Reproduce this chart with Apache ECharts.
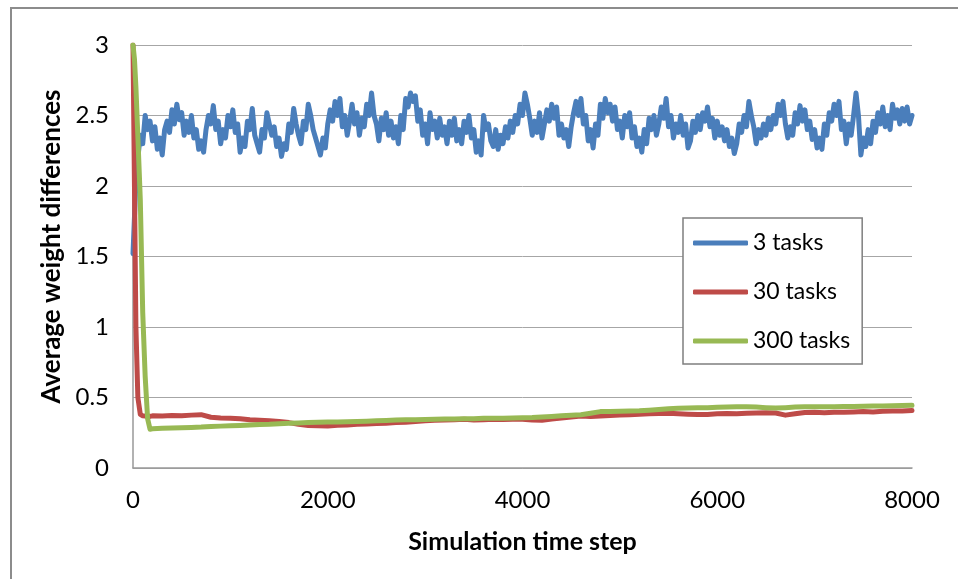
<!DOCTYPE html>
<html>
<head>
<meta charset="utf-8">
<script src="https://cdn.jsdelivr.net/npm/echarts@6/dist/echarts.min.js"></script>
<style>
  html, body { margin: 0; padding: 0; background: #fff; }
  #wrap { position: relative; width: 958px; height: 579px; overflow: hidden; }
  #frame { position: absolute; left: 10px; top: 7px; width: 960px; height: 600px;
           border-left: 2px solid #8c8c8c; border-top: 2px solid #8c8c8c; }
  #chart { position: absolute; left: 0; top: 0; width: 958px; height: 579px; }
</style>
</head>
<body>
<div id="wrap">
  <div id="frame"></div>
  <div id="chart"></div>
</div>
<script>
// ---- Data ----
const seriesNames = ['3 tasks', '30 tasks', '300 tasks'];
const xTicks = [0, 2000, 4000, 6000, 8000];
const yTicks = [0, 0.5, 1, 1.5, 2, 2.5, 3];

// 3 tasks: sampled every 25 time steps from 0 to 8000
const blueStep = 25;
const blueY = [
  1.52,1.95,2.2,2.36,2.3,2.5,2.4,2.46,2.32,2.42,2.26,2.34,2.22,2.4,2.46,2.38,2.54,2.44,2.58,2.47,
  2.52,2.36,2.46,2.38,2.5,2.34,2.4,2.26,2.32,2.24,2.4,2.5,2.44,2.57,2.4,2.46,2.3,2.4,2.34,2.5,
  2.42,2.54,2.38,2.44,2.24,2.34,2.28,2.46,2.4,2.55,2.36,2.3,2.24,2.4,2.34,2.52,2.44,2.36,2.42,2.28,
  2.34,2.21,2.3,2.26,2.44,2.38,2.55,2.44,2.36,2.3,2.46,2.4,2.58,2.5,2.4,2.34,2.28,2.22,2.34,2.27,
  2.44,2.54,2.46,2.6,2.5,2.62,2.42,2.5,2.36,2.46,2.58,2.44,2.52,2.36,2.48,2.42,2.58,2.5,2.66,2.5,
  2.44,2.32,2.48,2.4,2.52,2.36,2.46,2.34,2.42,2.3,2.5,2.4,2.62,2.56,2.66,2.6,2.64,2.46,2.54,2.36,
  2.44,2.3,2.52,2.4,2.46,2.34,2.48,2.36,2.42,2.3,2.46,2.36,2.48,2.32,2.4,2.3,2.46,2.38,2.5,2.34,
  2.4,2.24,2.32,2.22,2.5,2.4,2.44,2.32,2.28,2.4,2.26,2.36,2.3,2.42,2.34,2.46,2.38,2.5,2.44,2.58,
  2.5,2.66,2.58,2.48,2.36,2.46,2.38,2.52,2.34,2.44,2.54,2.46,2.58,2.48,2.56,2.36,2.44,2.34,2.4,2.28,
  2.42,2.52,2.6,2.5,2.62,2.44,2.5,2.32,2.4,2.27,2.44,2.36,2.58,2.48,2.62,2.52,2.58,2.46,2.56,2.4,
  2.46,2.34,2.5,2.42,2.52,2.34,2.42,2.28,2.34,2.24,2.4,2.3,2.48,2.4,2.5,2.36,2.44,2.56,2.48,2.62,
  2.42,2.5,2.34,2.44,2.38,2.5,2.36,2.44,2.27,2.32,2.46,2.38,2.5,2.4,2.52,2.46,2.56,2.42,2.48,2.34,
  2.46,2.36,2.42,2.32,2.4,2.28,2.34,2.23,2.3,2.44,2.38,2.5,2.42,2.6,2.5,2.42,2.3,2.4,2.34,2.44,
  2.36,2.48,2.4,2.5,2.44,2.58,2.5,2.6,2.44,2.34,2.42,2.36,2.52,2.44,2.57,2.46,2.54,2.4,2.46,2.33,
  2.4,2.27,2.34,2.26,2.44,2.36,2.52,2.46,2.58,2.5,2.6,2.4,2.46,2.3,2.44,2.36,2.5,2.66,2.5,2.22,
  2.34,2.28,2.4,2.3,2.46,2.38,2.52,2.44,2.56,2.42,2.5,2.4,2.58,2.48,2.54,2.44,2.55,2.46,2.56,2.44,
  2.5
];

// 30 and 300 tasks share these time steps
const lowX = [0,15,30,50,75,100,125,150,175,
  200,300,400,500,600,700,800,900,1000,1100,1200,1300,1400,1500,1600,1700,1800,1900,
  2000,2100,2200,2300,2400,2500,2600,2700,2800,2900,
  3000,3100,3200,3300,3400,3500,3600,3700,3800,3900,
  4000,4100,4200,4300,4400,4500,4600,4700,4800,4900,
  5000,5100,5200,5300,5400,5500,5600,5700,5800,5900,
  6000,6100,6200,6300,6400,6500,6600,6700,6800,6900,
  7000,7100,7200,7300,7400,7500,7600,7700,7800,7900,
  8000];
const redY = [3.0,2.0,1.0,0.5,0.38,0.37,0.368,0.37,0.366,
  0.37,0.368,0.372,0.37,0.375,0.378,0.36,0.355,0.352,0.35,0.342,0.338,0.335,0.33,0.322,0.31,0.302,0.3,
  0.298,0.303,0.305,0.31,0.312,0.315,0.318,0.322,0.325,0.33,
  0.335,0.338,0.34,0.342,0.345,0.34,0.343,0.345,0.344,0.346,
  0.345,0.34,0.338,0.348,0.355,0.362,0.368,0.366,0.368,0.372,
  0.375,0.378,0.382,0.385,0.386,0.388,0.385,0.382,0.38,0.38,
  0.384,0.386,0.385,0.388,0.39,0.392,0.39,0.375,0.385,0.394,
  0.395,0.392,0.396,0.395,0.398,0.4,0.398,0.402,0.404,0.405,
  0.408];
const greenY = [3.0,2.9,2.7,2.35,1.9,1.1,0.65,0.35,0.275,
  0.278,0.282,0.284,0.286,0.288,0.29,0.294,0.297,0.3,0.302,0.305,0.308,0.31,0.314,0.318,0.32,0.322,0.324,
  0.326,0.327,0.328,0.33,0.332,0.335,0.337,0.34,0.342,0.343,
  0.344,0.346,0.347,0.348,0.35,0.35,0.352,0.352,0.353,0.354,
  0.356,0.358,0.362,0.366,0.37,0.374,0.377,0.388,0.4,0.4,
  0.402,0.404,0.406,0.41,0.415,0.42,0.424,0.426,0.428,0.428,
  0.43,0.432,0.434,0.435,0.432,0.428,0.425,0.428,0.432,0.435,
  0.435,0.434,0.435,0.436,0.436,0.438,0.44,0.44,0.442,0.443,
  0.445];

const colors = ['#4a7ebb', '#be4b48', '#98b954'];

// ---- Build ----
const blueData = blueY.map((v, i) => [i * blueStep, v]);
const redData = lowX.map((x, i) => [x, redY[i]]);
const greenData = lowX.map((x, i) => [x, greenY[i]]);

const FONT = 'Lato, "Open Sans", sans-serif';
const chart = echarts.init(document.getElementById('chart'), null, { renderer: 'canvas' });
chart.setOption({
  animation: false,
  backgroundColor: 'transparent',
  color: colors,
  grid: { left: 133, right: 46, top: 45, bottom: 111, containLabel: false },
  legend: {
    orient: 'vertical',
    left: 683, top: 218,
    data: seriesNames,
    icon: 'roundRect',
    itemWidth: 55, itemHeight: 5,
    itemGap: 23,
    padding: [12, 12, 10, 10],
    backgroundColor: '#fff',
    borderColor: '#7f7f7f', borderWidth: 1.5,
    textStyle: { fontFamily: FONT, fontSize: 23, color: '#000', lineHeight: 26 }
  },
  xAxis: {
    type: 'value',
    min: xTicks[0], max: xTicks[xTicks.length - 1], interval: 2000,
    name: 'Simulation time step',
    nameLocation: 'middle', nameGap: 61,
    nameTextStyle: { fontFamily: FONT, fontSize: 25, fontWeight: 'bold', color: '#000' },
    axisLine: { show: true, lineStyle: { color: '#999', width: 1.5 } },
    axisTick: { show: false },
    axisLabel: { fontFamily: FONT, fontSize: 24, color: '#000', margin: 20,
                 formatter: v => String(v) },
    splitLine: { show: false }
  },
  yAxis: {
    type: 'value',
    min: yTicks[0], max: yTicks[yTicks.length - 1], interval: 0.5,
    name: 'Average weight differences',
    nameLocation: 'middle', nameGap: 55, nameRotate: 90,
    nameTextStyle: { fontFamily: FONT, fontSize: 26, fontWeight: 'bold', color: '#000', padding: [0, 0, 0, 20] },
    axisLine: { show: true, lineStyle: { color: '#999', width: 1.5 } },
    axisTick: { show: false },
    axisLabel: { fontFamily: FONT, fontSize: 24, color: '#000', margin: 24 },
    splitLine: { show: true, lineStyle: { color: '#a6a6a6', width: 1 } }
  },
  series: [
    { name: seriesNames[0], type: 'line', data: blueData, showSymbol: false, symbol: 'none',
      lineStyle: { width: 5, color: colors[0], join: 'round', cap: 'round' } },
    { name: seriesNames[1], type: 'line', data: redData, showSymbol: false, symbol: 'none',
      lineStyle: { width: 5, color: colors[1], join: 'round', cap: 'round' } },
    { name: seriesNames[2], type: 'line', data: greenData, showSymbol: false, symbol: 'none',
      lineStyle: { width: 5, color: colors[2], join: 'round', cap: 'round' } }
  ]
});
</script>
</body>
</html>
